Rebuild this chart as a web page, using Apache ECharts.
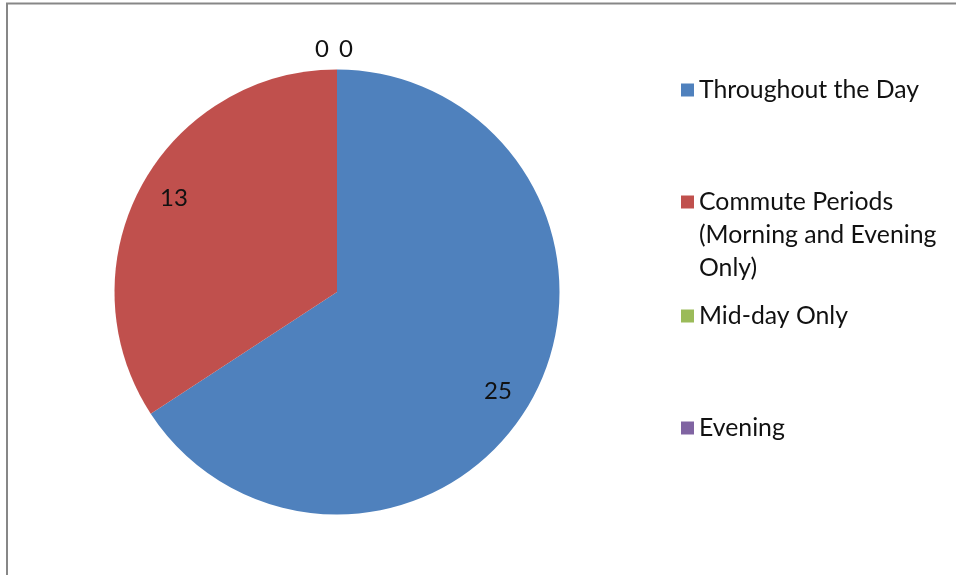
<!DOCTYPE html>
<html>
<head>
<meta charset="utf-8">
<script src="https://cdn.jsdelivr.net/npm/echarts@6/dist/echarts.min.js"></script>
<style>
  html, body { margin: 0; padding: 0; background: #ffffff; }
  #chart { width: 956px; height: 575px; }
</style>
</head>
<body>
<div id="chart"></div>
<script>
// Time-of-day categories and their counts
const categories = [
  'Throughout the Day',
  'Commute Periods (Morning and Evening Only)',
  'Mid-day Only',
  'Evening'
];
const values = [25, 13, 0, 0];
const colors = ['#4F81BD', '#C0504D', '#9BBB59', '#8064A2'];

const FONT = 'Lato';
const LEGEND_FONT_SIZE = 24.8;
const LABEL_FONT_SIZE = 24;
const TEXT_COLOR = '#111111';

// Small nudges for the value labels (pixels), per slice
const labelNudges = [[-5, 9], [3, -4], [-24, 0], [0, 0]];

const chart = echarts.init(document.getElementById('chart'), null, { renderer: 'canvas' });

const pieData = categories.map((name, i) => ({
  name: name,
  value: values[i],
  itemStyle: { color: colors[i] }
}));

// Label ring: transparent sectors whose inside labels sit near the rim;
// zero-valued slices get their label just above the top of the pie.
const labelData = categories.map((name, i) => ({
  name: name,
  value: values[i],
  itemStyle: { color: 'rgba(0,0,0,0)' },
  label: values[i] === 0
    ? { position: 'outside', distanceToLabelLine: 2 }
    : { position: 'inside' },
  labelLine: { show: false, length: 20, length2: 0 }
}));

// One legend block per category. The wrapped entry gets two blank lines
// ahead of it so that its marker sits level with the first text line.
const legendTops = [73.5, 119.5, 299.5, 411.5];
const legends = categories.map((name, i) => ({
  orient: 'vertical',
  left: 681,
  top: legendTops[i],
  padding: 0,
  itemGap: 0,
  itemWidth: 13,
  itemHeight: 13,
  icon: 'rect',
  selectedMode: false,
  data: [name],
  formatter: i === 1 ? (n => '\n\n' + n) : '{name}',
  textStyle: {
    fontFamily: FONT,
    fontSize: LEGEND_FONT_SIZE,
    color: TEXT_COLOR,
    lineHeight: 33,
    width: 255,
    overflow: 'break'
  }
}));

chart.setOption({
  animation: false,
  backgroundColor: '#ffffff',
  graphic: [{
    type: 'rect',
    silent: true,
    shape: { x: 7, y: 3.5, width: 1200, height: 1200 },
    style: { fill: null, stroke: '#878787', lineWidth: 2 }
  }],
  legend: legends,
  series: [
    {
      type: 'pie',
      center: [337, 292],
      radius: 222.5,
      startAngle: 90,
      clockwise: true,
      silent: true,
      avoidLabelOverlap: false,
      label: { show: false },
      labelLine: { show: false },
      itemStyle: { borderWidth: 0 },
      emphasis: { disabled: true },
      data: pieData
    },
    {
      type: 'pie',
      center: [337, 292],
      radius: [149, 222.5],
      startAngle: 90,
      clockwise: true,
      silent: true,
      avoidLabelOverlap: false,
      itemStyle: { borderWidth: 0 },
      emphasis: { disabled: true },
      label: {
        show: true,
        formatter: '{c}',
        fontFamily: FONT,
        fontSize: LABEL_FONT_SIZE,
        color: TEXT_COLOR
      },
      labelLayout: function (params) {
        const n = labelNudges[params.dataIndex];
        return { dx: n[0], dy: n[1] };
      },
      data: labelData
    }
  ]
});
</script>
</body>
</html>
